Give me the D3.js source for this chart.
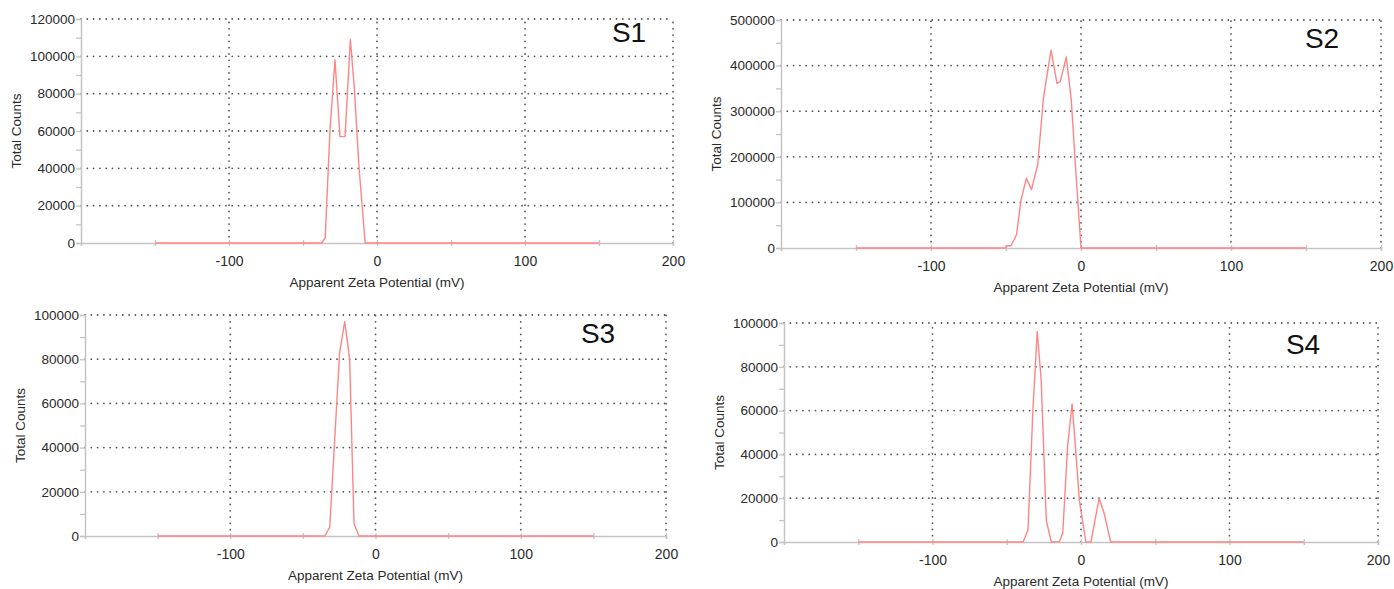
<!DOCTYPE html>
<html>
<head>
<meta charset="utf-8">
<script src="https://cdn.jsdelivr.net/npm/d3@7"></script>
<style>
  body { margin: 0; background: #fff; }
  text { font-family: "Liberation Sans", Arial, sans-serif; }
</style>
</head>
<body>
<svg id="chart" width="1394" height="589"></svg>
<script>
// ---- data ----
const panelNames = ['S1', 'S2', 'S3', 'S4']
const xTicks = [-100, 0, 100, 200]
const xMinorTicks = [-150, -50, 50, 150]
const xTitle = 'Apparent Zeta Potential (mV)'
const yTitle = 'Total Counts'

const s1Zeta   = [-150, -37.4, -35, -31.8, -28.4, -25, -21.6, -18, -15.4, -12.2, -8, 150]
const s1Counts = [0, 0, 2700, 60000, 98000, 57000, 57000, 109000, 84000, 41000, 0, 0]
const s1YTicks = [0, 20000, 40000, 60000, 80000, 100000, 120000]

const s2Zeta   = [-150, -50.5, -49.8, -46.7, -43, -40, -36.4, -33, -28.9, -25, -20, -16, -13.8, -9.8, -6.5, -3.8, 0, 150]
const s2Counts = [0, 0, 5000, 5000, 29000, 105000, 153000, 128000, 182000, 330000, 434000, 361000, 365000, 419000, 325000, 186000, 0, 0]
const s2YTicks = [0, 100000, 200000, 300000, 400000, 500000]

const s3Zeta   = [-150, -34.9, -31.5, -24.7, -21.2, -17.8, -14.8, -11.4, 150]
const s3Counts = [0, 0, 4000, 83000, 97000, 80000, 5700, 0, 0]
const s3YTicks = [0, 20000, 40000, 60000, 80000, 100000]

const s4Zeta   = [-150, -39, -35.7, -32.4, -29.5, -26.8, -23.4, -20, -14.5, -12.3, -9, -6, -3.8, -1.1, 3.3, 6.7, 12.2, 15.6, 20, 150]
const s4Counts = [0, 0, 5600, 60000, 96000, 74000, 10000, 0, 300, 4000, 44000, 63000, 44000, 19000, 0, 0, 20000, 13000, 0, 0]
const s4YTicks = [0, 20000, 40000, 60000, 80000, 100000]

// ---- layout ----
const panels = [
  { name: panelNames[0], zeta: s1Zeta, counts: s1Counts, yTicks: s1YTicks,
    x0: 81, x1: 673, y0: 243, y1: 19, labelX: 629, labelY: 42 },
  { name: panelNames[1], zeta: s2Zeta, counts: s2Counts, yTicks: s2YTicks,
    x0: 781, x1: 1381, y0: 248, y1: 20, labelX: 1322, labelY: 48 },
  { name: panelNames[2], zeta: s3Zeta, counts: s3Counts, yTicks: s3YTicks,
    x0: 85, x1: 666, y0: 536, y1: 315, labelX: 598, labelY: 343 },
  { name: panelNames[3], zeta: s4Zeta, counts: s4Counts, yTicks: s4YTicks,
    x0: 784, x1: 1378, y0: 542, y1: 323, labelX: 1303, labelY: 354 }
]

const svg = d3.select('#chart')
const axisGray = '#c4c4c4'
const textGray = '#2a2a2a'
const plain = d => String(d)

function drawPanel(p) {
  const g = svg.append('g').attr('class', 'panel')
  const yMax = p.yTicks[p.yTicks.length - 1]
  const step = p.yTicks[1] - p.yTicks[0]

  const x = d3.scaleLinear().domain([-200, 200]).range([p.x0, p.x1])
  const y = d3.scaleLinear().domain([0, yMax]).range([p.y0, p.y1])

  // dotted grid
  g.selectAll('.hgrid')
    .data(p.yTicks.filter(d => d > 0))
    .enter().append('line')
    .attr('x1', x(-200)).attr('x2', x(200))
    .attr('y1', d => y(d)).attr('y2', d => y(d))
    .attr('stroke', '#555').attr('stroke-width', 1.8)
    .attr('stroke-linecap', 'round').attr('stroke-dasharray', '0,6.3')

  g.selectAll('.vgrid')
    .data(xTicks)
    .enter().append('line')
    .attr('x1', d => x(d)).attr('x2', d => x(d))
    .attr('y1', y(0)).attr('y2', y(yMax))
    .attr('stroke', '#555').attr('stroke-width', 1.8)
    .attr('stroke-linecap', 'round').attr('stroke-dasharray', '0,6.3')

  // y axis
  const minor = d3.range(0, yMax + 1, step / 2)
  g.append('g')
    .attr('transform', `translate(${p.x0},0)`)
    .call(d3.axisLeft(y).tickValues(minor).tickSize(5).tickFormat(''))
    .call(a => a.selectAll('line').attr('stroke', axisGray).attr('stroke-width', 1.3))
    .call(a => a.select('.domain').attr('stroke', axisGray).attr('stroke-width', 1.5))

  g.append('g')
    .attr('transform', `translate(${p.x0},0)`)
    .call(d3.axisLeft(y).tickValues(p.yTicks).tickSize(0).tickPadding(6).tickFormat(plain))
    .call(a => a.select('.domain').remove())
    .call(a => a.selectAll('text').attr('fill', textGray).style('font-size', '13.5px'))

  // x axis
  const allX = xMinorTicks.concat(xTicks)
  g.append('g')
    .attr('transform', `translate(0,${p.y0})`)
    .call(d3.axisBottom(x).tickValues(allX).tickSize(3).tickFormat(''))
    .call(a => a.selectAll('line').attr('stroke', axisGray).attr('stroke-width', 1.3))
    .call(a => a.select('.domain').attr('stroke', axisGray).attr('stroke-width', 1.5))
  g.append('g')
    .attr('transform', `translate(0,${p.y0})`)
    .call(d3.axisTop(x).tickValues(allX).tickSize(3).tickFormat(''))
    .call(a => a.selectAll('line').attr('stroke', axisGray).attr('stroke-width', 1.3))
    .call(a => a.select('.domain').remove())
  g.append('g')
    .attr('transform', `translate(0,${p.y0})`)
    .call(d3.axisBottom(x).tickValues(xTicks).tickSize(0).tickPadding(13).tickFormat(plain))
    .call(a => a.select('.domain').remove())
    .call(a => a.selectAll('text').attr('fill', textGray).style('font-size', '14px'))

  // data line
  const line = d3.line()
    .x((d, i) => x(p.zeta[i]))
    .y(d => y(d))
  g.append('path')
    .datum(p.counts)
    .attr('d', line)
    .attr('fill', 'none')
    .attr('stroke', '#ff8585')
    .attr('stroke-width', 1.4)
    .attr('stroke-linejoin', 'round')

  // titles
  g.append('text')
    .text(xTitle)
    .attr('x', (p.x0 + p.x1) / 2)
    .attr('y', p.y0 + 44)
    .attr('text-anchor', 'middle')
    .attr('fill', textGray)
    .style('font-size', '13.5px')

  g.append('text')
    .text(yTitle)
    .attr('transform', `translate(${p.x0 - 60},${(p.y0 + p.y1) / 2}) rotate(-90)`)
    .attr('text-anchor', 'middle')
    .attr('fill', textGray)
    .style('font-size', '13.5px')

  g.append('text')
    .text(p.name)
    .attr('x', p.labelX)
    .attr('y', p.labelY)
    .attr('text-anchor', 'middle')
    .attr('fill', '#111')
    .style('font-size', '28px')
}

panels.forEach(drawPanel)
</script>
</body>
</html>
